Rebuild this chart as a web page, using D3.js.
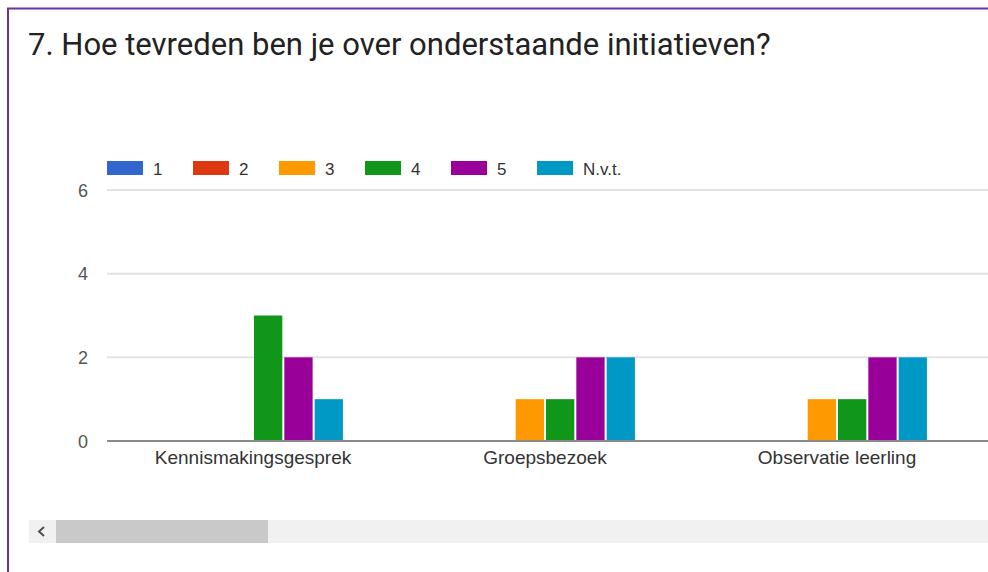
<!DOCTYPE html>
<html>
<head>
<meta charset="utf-8">
<script src="https://cdn.jsdelivr.net/npm/d3@7"></script>
<style>
html,body{margin:0;padding:0;background:#fff;}
svg{display:block;}
</style>
</head>
<body>
<svg id="chart" width="988" height="572"></svg>
<script>
// ---- data ----
const title = "7. Hoe tevreden ben je over onderstaande initiatieven?";
const categories = ["Kennismakingsgesprek", "Groepsbezoek", "Observatie leerling"];
const seriesNames = ["1", "2", "3", "4", "5", "N.v.t."];
const seriesColors = ["#3366cc", "#dc3912", "#ff9900", "#109618", "#990099", "#0099c6"];
const values1 = [0, 0, 0];
const values2 = [0, 0, 0];
const values3 = [0, 1, 1];
const values4 = [3, 1, 1];
const values5 = [2, 2, 2];
const valuesNvt = [1, 2, 2];
const yTicks = [0, 2, 4, 6];

const seriesValues = [values1, values2, values3, values4, values5, valuesNvt];

const svg = d3.select("#chart");
const W = 988, H = 572;
const FONT = "Arial, 'Liberation Sans', sans-serif";

// frame (purple border top + left)
svg.append("rect").attr("x", 0).attr("y", 0).attr("width", W).attr("height", H).attr("fill", "#fff");
svg.append("line").attr("x1", 7).attr("x2", W).attr("y1", 8.5).attr("y2", 8.5)
  .attr("stroke", "#7030a0").attr("stroke-width", 2);
svg.append("line").attr("x1", 8).attr("x2", 8).attr("y1", 8).attr("y2", H)
  .attr("stroke", "#7030a0").attr("stroke-width", 2);

// title
svg.append("text").attr("x", 28).attr("y", 55)
  .attr("font-family", "Roboto, Arial, sans-serif").attr("font-size", 31)
  .attr("fill", "#222").text(title);

// scales
const plotLeft = 107, plotRight = 983;
const y = d3.scaleLinear().domain([0, 6]).range([441, 190]);
const x0 = d3.scaleBand().domain(categories).range([plotLeft, plotRight])
  .paddingInner(0.384).paddingOuter(0.192);
const x1 = d3.scaleBand().domain(seriesNames).range([0, x0.bandwidth()])
  .paddingInner(0.067).paddingOuter(0);

// gridlines
const grid = svg.append("g");
yTicks.filter(t => t !== 0).forEach(t => {
  grid.append("line").attr("x1", plotLeft).attr("x2", W)
    .attr("y1", y(t)).attr("y2", y(t)).attr("stroke", "#e3e3e3").attr("stroke-width", 2);
});

// y axis labels
const yAxis = d3.axisLeft(y).tickValues(yTicks).tickFormat(d3.format("d")).tickSize(0).tickPadding(0);
const yg = svg.append("g").attr("transform", "translate(88,0)").call(yAxis);
yg.select(".domain").remove();
yg.selectAll("text").attr("font-family", FONT)
  .attr("font-size", 18).attr("fill", "#555").attr("dy", "0.35em");

// bars
const groups = svg.append("g").selectAll("g").data(categories).join("g")
  .attr("transform", d => `translate(${x0(d)},0)`);
groups.selectAll("rect")
  .data((c, ci) => seriesNames.map((s, si) => ({ s, si, v: seriesValues[si][ci] })))
  .join("rect")
  .attr("x", d => x1(d.s))
  .attr("width", x1.bandwidth())
  .attr("y", d => y(d.v))
  .attr("height", d => y(0) - y(d.v))
  .attr("fill", d => seriesColors[d.si]);

// baseline
svg.append("line").attr("x1", plotLeft).attr("x2", W).attr("y1", y(0)).attr("y2", y(0))
  .attr("stroke", "#8a8a8a").attr("stroke-width", 2);

// x axis labels
const xAxis = d3.axisBottom(x0).tickSize(0).tickPadding(0);
const xg = svg.append("g").attr("transform", `translate(0,${y(0)})`).call(xAxis);
xg.select(".domain").remove();
xg.selectAll("text").attr("font-family", FONT)
  .attr("font-size", 19).attr("fill", "#333").attr("dy", null).attr("y", 23);

// legend
const legend = svg.append("g");
seriesNames.forEach((s, i) => {
  const lx = 107 + i * 86;
  legend.append("rect").attr("x", lx).attr("y", 161)
    .attr("width", 36).attr("height", 14).attr("fill", seriesColors[i]);
  legend.append("text").attr("x", lx + 46).attr("y", 175)
    .attr("font-family", FONT).attr("font-size", 17)
    .attr("fill", "#333").text(s);
});

// scrollbar
svg.append("rect").attr("x", 29).attr("y", 520).attr("width", W - 29).attr("height", 23).attr("fill", "#f1f1f1");
svg.append("rect").attr("x", 56).attr("y", 520).attr("width", 212).attr("height", 23).attr("fill", "#c9c9c9");
svg.append("path").attr("d", "M44,527 L39,531.5 L44,536").attr("fill", "none")
  .attr("stroke", "#505050").attr("stroke-width", 2);
</script>
</body>
</html>
